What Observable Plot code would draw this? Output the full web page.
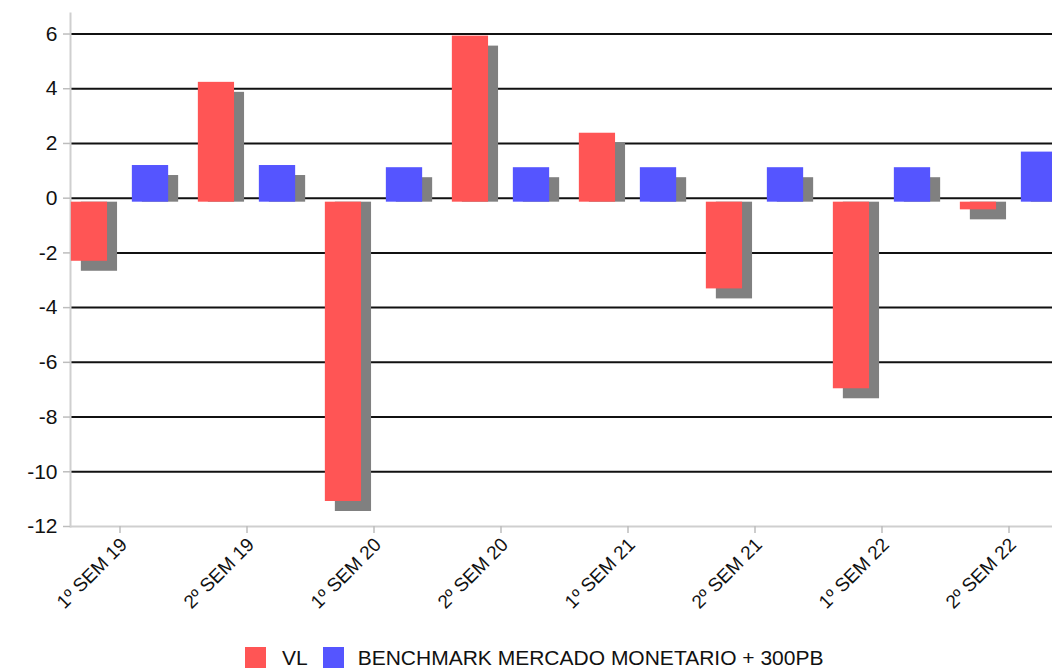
<!DOCTYPE html>
<html><head><meta charset="utf-8">
<script src="https://cdn.jsdelivr.net/npm/d3@7"></script>
<script src="https://cdn.jsdelivr.net/npm/@observablehq/plot@0.6"></script>
<style>
body{margin:0;background:#fff;overflow:hidden;font-family:"Liberation Sans",Arial,sans-serif;}
#legend{display:flex;align-items:center;margin-left:245px;margin-top:21px;font-size:21px;color:#111;line-height:21px;}
.sw{width:21px;height:21px;display:inline-block;}
</style></head><body>
<div id="chart"></div>
<div id="legend"></div>
<script>
const categories = ["1º SEM 19","2º SEM 19","1º SEM 20","2º SEM 20","1º SEM 21","2º SEM 21","1º SEM 22","2º SEM 22"];
const vlValues = [-2.16, 4.38, -10.94, 6.07, 2.52, -3.17, -6.82, -0.28];
const benchmarkValues = [1.34, 1.34, 1.26, 1.26, 1.26, 1.26, 1.26, 1.83];
const seriesNames = ["VL", "BENCHMARK MERCADO MONETARIO + 300PB"];
const seriesColors = ["#ff5555", "#5555ff"];
const yTicks = [-12, -10, -8, -6, -4, -2, 0, 2, 4, 6];
const gridValues = [-10, -8, -6, -4, -2, 0, 2, 4, 6];

const W = 1052, H = 626, mL = 70, mR = 0, mT = 13, mB = 100;
const yDomain = [-12, 6.75];
const band = 127.3;
const xRange = [mL - 15.15, mL - 15.15 + band * categories.length];
const pxPerUnit = (H - mT - mB) / (yDomain[1] - yDomain[0]);
const shadowOff = 10; // px
const baseDy = 4;     // 3D offset of bars vs grid

const rows = categories.map((c, i) => ({cat: c, vl: vlValues[i], bm: benchmarkValues[i]}));
const redInset = {insetLeft: 14.85, insetRight: band - 14.85 - 36.5};
const blueInset = {insetLeft: 75.85, insetRight: band - 75.85 - 36.6};
const sh = v => v - shadowOff / pxPerUnit;

const font = "Liberation Sans, Arial, sans-serif";

const chart = Plot.plot({
  width: W, height: H,
  marginLeft: mL, marginRight: mR, marginTop: mT, marginBottom: mB,
  style: {fontFamily: font, background: "#fff", color: "#111"},
  x: {type: "band", domain: categories, range: xRange, padding: 0, label: null},
  y: {domain: yDomain, label: null},
  marks: [
    Plot.ruleY(gridValues, {stroke: "#111", strokeWidth: 2}),
    Plot.ruleY([-12], {stroke: "#cfcfcf", strokeWidth: 2}),
    Plot.frame({anchor: "left", stroke: "#cfcfcf", strokeWidth: 2}),
    Plot.barY(rows, {x: "cat", y1: 0, y2: d => sh(d.vl), fill: "#808080", dx: shadowOff, dy: baseDy, ...redInset}),
    Plot.barY(rows, {x: "cat", y1: 0, y2: d => sh(d.bm), fill: "#808080", dx: shadowOff, dy: baseDy, ...blueInset}),
    Plot.barY(rows, {x: "cat", y1: 0, y2: "vl", fill: seriesColors[0], dy: baseDy, ...redInset}),
    Plot.barY(rows, {x: "cat", y1: 0, y2: "bm", fill: seriesColors[1], dy: baseDy, ...blueInset}),
    Plot.axisY({ticks: yTicks, tickSize: 7, stroke: "#bdbdbd", strokeWidth: 1.5, tickFormat: () => "", label: null}),
    Plot.axisY({ticks: yTicks, tickSize: 0, tickPadding: 13, fontSize: 21, fill: "#111", tickFormat: d => String(d), label: null}),
    Plot.axisX({tickSize: 7, stroke: "#bdbdbd", strokeWidth: 1.5, tickFormat: () => "", label: null}),
    Plot.axisX({tickSize: 0, tickPadding: 15, tickRotate: -45, fontSize: 19, fill: "#111", dx: 4, label: null})
  ]
});
document.getElementById("chart").appendChild(chart);

const legend = document.getElementById("legend");
seriesNames.forEach((n, i) => {
  const s = document.createElement("span");
  s.className = "sw"; s.style.background = seriesColors[i];
  s.style.marginRight = i === 0 ? "16px" : "14px";
  legend.appendChild(s);
  const t = document.createElement("span");
  t.textContent = n;
  if (i === 0) t.style.marginRight = "15px";
  legend.appendChild(t);
});
</script>
</body></html>
